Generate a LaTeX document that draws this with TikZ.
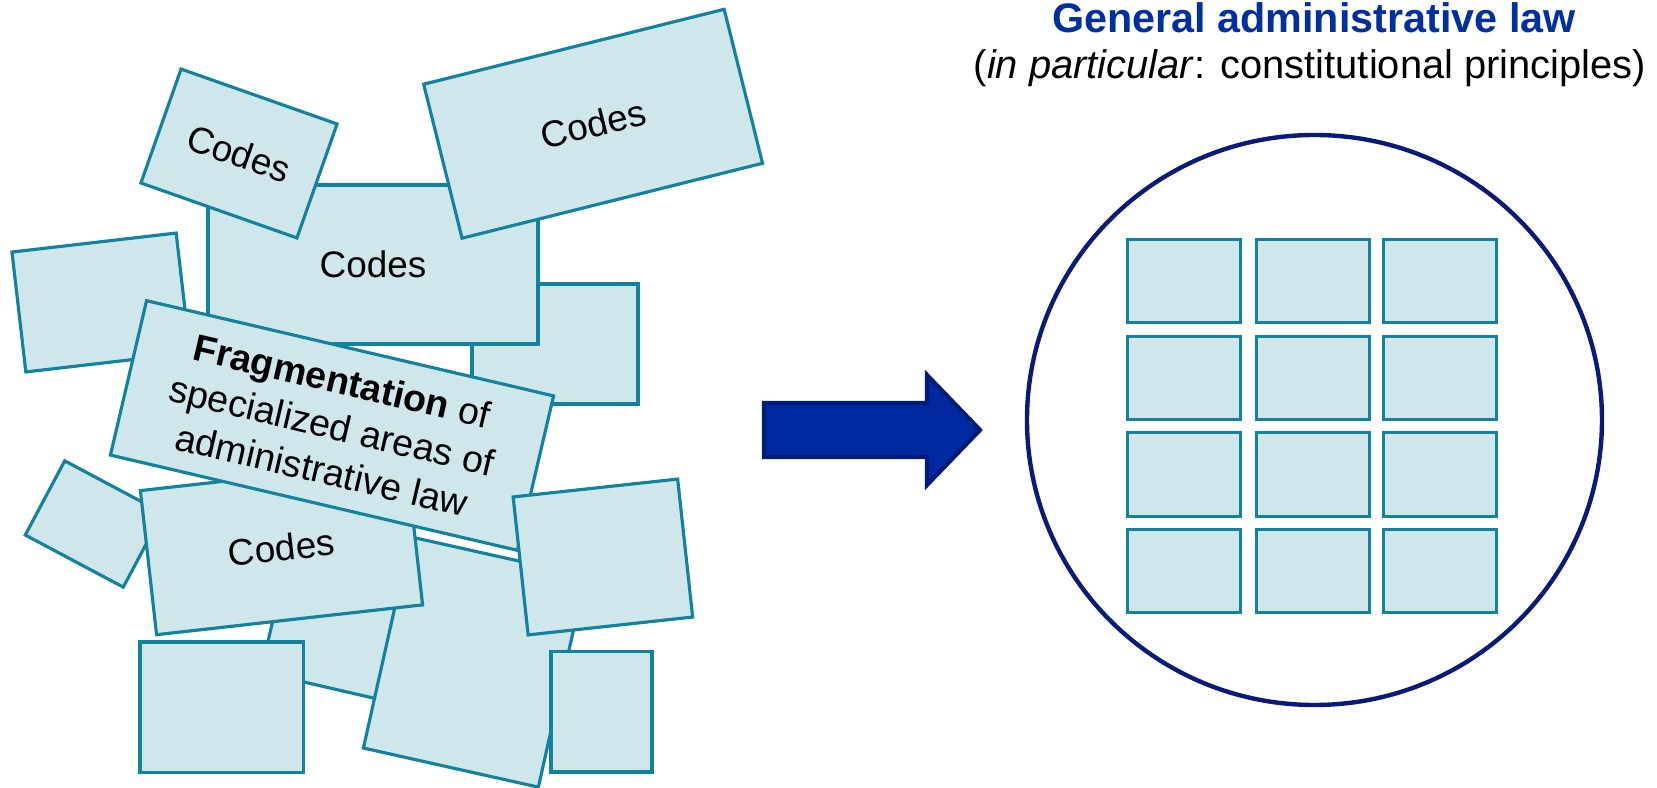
\documentclass[tikz,border=0pt]{standalone}
\usepackage{fontspec}
\setmainfont{Liberation Sans}
\usetikzlibrary{shapes.geometric}
\definecolor{cardfill}{RGB}{207,231,235}
\definecolor{cardline}{RGB}{18,130,158}
\definecolor{navy}{RGB}{10,26,120}
\definecolor{arrowfill}{RGB}{0,40,160}
\definecolor{arrowline}{RGB}{0,28,120}
\definecolor{titleblue}{RGB}{0,48,160}
\begin{document}
\begin{tikzpicture}[x=0.1mm, y=-0.1mm,
  card/.style={draw=cardline, fill=cardfill, line width=0.9pt, inner sep=0pt, outer sep=0pt,
    font=\fontsize{10.5}{12.6}\selectfont},
  wh/.style 2 args={minimum width={#1*0.1mm}, minimum height={#2*0.1mm}},
  fragtext/.style={align=center, font=\fontsize{10.7}{13}\selectfont},
  bigarrow/.style={fill=arrowfill, draw=arrowline, line width=1.2pt, line join=miter},
  ring/.style={draw=navy, line width=1.25pt, ellipse, inner sep=0pt}
]
\useasboundingbox (0,0) rectangle (1657,788);

% ---------- left cluster (back to front) ----------
\node[card, wh={166}{120}] (r5) at (555,344) {};
\node[card, wh={330}{159}] (r3) at (373,264.5) {Codes};
\node[card, wh={165.4}{120.8}, rotate=-19.4] (r2) at (239,153.5) {Codes};
\node[card, wh={309.7}{158.7}, rotate=14] (r1) at (593.1,123.75) {Codes};
\node[card, wh={165.3}{120.7}, rotate=6.6] (r4) at (101,302.5) {};
\node[card, wh={150}{120}, rotate=-13] (r11) at (347.5,630.5) {};
\node[card, wh={179.3}{216.4}, rotate=-12.6] (r9) at (474.5,662) {};
\node[card, wh={111}{84}, rotate=-28] (r7) at (94,524) {};
\node[card, wh={267.7}{145}, rotate=6.4] (r8) at (281.5,547.75) {Codes};
\node[card, fragtext, wh={418}{158.6}, rotate=-13.17] (r6) at (332,425.5)
  {\textbf{Fragmentation} of\\specialized areas of\\administrative law};
\node[card, wh={165.5}{138.8}, rotate=6.2] (r10) at (602.9,557) {};
\node[card, wh={163.6}{130.7}] (r12) at (221.8,707.35) {};
\node[card, wh={101}{120.3}] (r13) at (601.5,711.85) {};

% ---------- arrow ----------
\draw[bigarrow] (764,403) -- (927,403) -- (927,375) -- (980,430) -- (927,485)
  -- (927,457) -- (764,457) -- cycle;

% ---------- right side ----------
\node[ring, minimum width=57.5mm, minimum height=57mm] (circ) at (1314.5,420) {};
\foreach \cx [count=\i] in {1184.35,1313.35,1440.35}{
  \foreach \cy [count=\j] in {281,378,474.35,570.85}{
    \node[card, wh={113}{83.5}] (g-\j-\i) at (\cx,\cy) {};
  }
}

\node[anchor=base, inner sep=0pt, text=titleblue,
  font=\fontsize{11.75}{14}\selectfont\bfseries] (title) at (1314,33) {General administrative law};
\node[anchor=base, inner sep=0pt, font=\fontsize{11.35}{14}\selectfont] (subtitle) at (1310,79)
  {(\textit{in particular}: constitutional principles)};
\end{tikzpicture}
\end{document}
